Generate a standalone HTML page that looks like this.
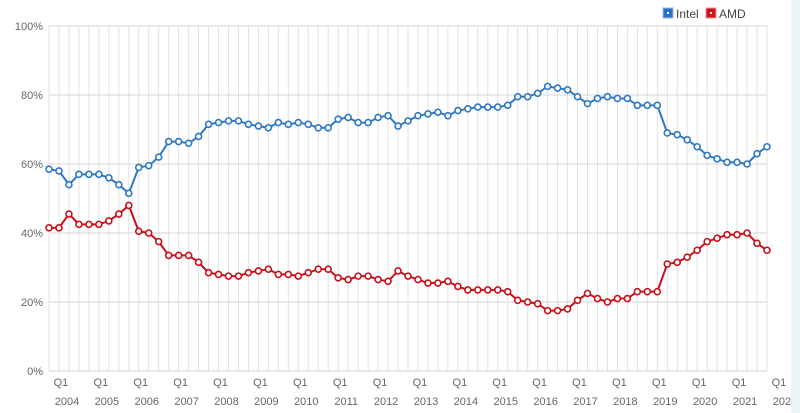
<!DOCTYPE html>
<html><head><meta charset="utf-8"><style>
html,body{margin:0;padding:0;background:#fff;}
body{width:800px;height:413px;overflow:hidden;position:relative;font-family:"Liberation Sans",sans-serif;}
#strip{position:absolute;left:791px;top:0;width:9px;height:413px;background:#eef3f8;z-index:2;}
svg{position:absolute;left:0;top:0;z-index:1;}
</style></head><body>
<div id="strip"></div>
<svg id="chart" width="800" height="413">
<g id="legend">
 <g>
  <rect x="663" y="8" width="10" height="10" fill="#2a72c8" stroke="#9bbbe0"/><rect x="667" y="12" width="2" height="2" fill="#fff"/>
  <text x="676" y="18" font-size="12" fill="#444">Intel</text></g>
 <g>
  <rect x="706" y="8" width="10" height="10" fill="#d0121b" stroke="#e59a9d"/><rect x="710" y="12" width="2" height="2" fill="#fff"/>
  <text x="719" y="18" font-size="12" fill="#444">AMD</text></g>
</g>
</svg>
<script>
const startYear = 2003, startQuarter = 4;
const yTicks = [0, 20, 40, 60, 80, 100];
const intel = [58.5,58,54,57,57,57,56,54,51.5,59,59.5,62,66.5,66.5,66,68,71.5,72,72.5,72.5,71.5,71,70.5,72,71.5,72,71.5,70.5,70.5,73,73.5,72,72,73.5,74,71,72.5,74,74.5,75,74,75.5,76,76.5,76.5,76.5,77,79.5,79.5,80.5,82.5,82,81.5,79.5,77.5,79,79.5,79,79,77,77,77,69,68.5,67,65,62.5,61.5,60.5,60.5,60,63,65];
const amd = [41.5,41.5,45.5,42.5,42.5,42.5,43.5,45.5,48,40.5,40,37.5,33.5,33.5,33.5,31.5,28.5,28,27.5,27.5,28.5,29,29.5,28,28,27.5,28.5,29.5,29.5,27,26.5,27.5,27.5,26.5,26,29,27.5,26.5,25.5,25.5,26,24.5,23.5,23.5,23.5,23.5,23,20.5,20,19.5,17.5,17.5,18,20.5,22.5,21,20,21,21,23,23,23,31,31.5,33,35,37.5,38.5,39.5,39.5,40,37,35];

const NS="http://www.w3.org/2000/svg";
const svg=document.getElementById('chart');
const L=49,R=767,T=26,B=371;
const n=intel.length;
const step=(R-L)/(n-1);
const x=i=>L+i*step;
const y=v=>B-(v/100)*(B-T);
function mk(tag,attrs,parent){const e=document.createElementNS(NS,tag);for(const k in attrs)e.setAttribute(k,attrs[k]);(parent||svg).appendChild(e);return e;}
const grid=mk('g',{});


for(let i=0;i<n;i++){const l=mk('line',{x1:x(i),x2:x(i),y1:T,y2:B,stroke:'#e2e2e2','stroke-width':1},grid);

}
yTicks.forEach(t=>{
 const l=mk('line',{x1:L,x2:R,y1:y(t),y2:y(t),stroke:t===0?'#cfcfcf':'#d6d6d6','stroke-width':1},grid);
 
 
 const tx=mk('text',{x:L-6,y:y(t)+4,'text-anchor':'end','font-size':11,fill:'#666'});
 tx.textContent=t+'%';
 
 
});
for(let i=0;i<=n;i++){
 const q=((startQuarter-1+i)%4)+1;
 if(q!==1)continue;
 const yr=startYear+Math.floor((startQuarter-1+i)/4);
 const xx=x(i)+2;
 const a=mk('text',{x:xx,y:386,'text-anchor':'middle','font-size':11,fill:'#666'});
 a.textContent='Q1';
 
 
 const b=mk('text',{x:xx+6,y:405,'text-anchor':'middle','font-size':11,fill:'#666'});
 b.textContent=yr;
 
 
}
function series(data,color,name){
 const g=mk('g',{});
 
 
 const p=mk('polyline',{points:data.map((v,i)=>x(i)+','+y(v)).join(' '),fill:'none',stroke:color,'stroke-width':2},g);
 
 
 data.forEach((v,i)=>{const c=mk('circle',{cx:x(i),cy:y(v),r:3,fill:'#fff',stroke:color,'stroke-width':1.6},g);
 
 });
}
series(intel,'#2f78c4','intel');
series(amd,'#c8101a','amd');
svg.appendChild(document.getElementById('legend'));
</script>
</body></html>
